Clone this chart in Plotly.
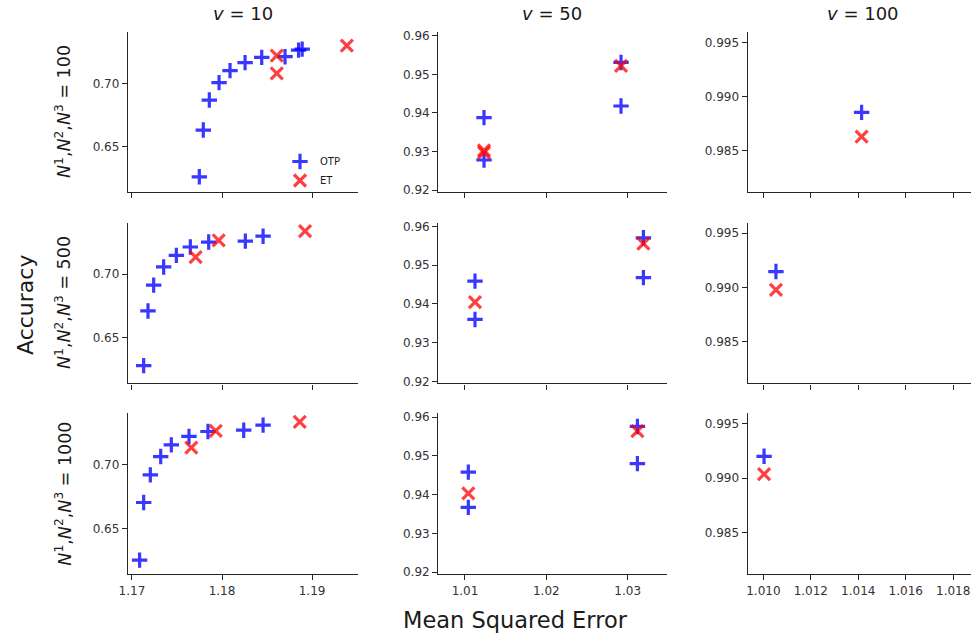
import plotly.graph_objects as go

# ---------------- data ----------------
v_values = [10, 50, 100]
n_values = [100, 500, 1000]
series_names = ["OTP", "ET"]

# N = 100
otp_mse_n100_v10 = [1.17748, 1.17792, 1.17859, 1.17967, 1.18089, 1.18256, 1.18441, 1.18700, 1.18850, 1.18890]
otp_acc_n100_v10 = [0.6262, 0.6631, 0.6868, 0.7005, 0.7100, 0.7163, 0.7205, 0.7210, 0.7262, 0.7270]
et_mse_n100_v10 = [1.18608, 1.18608, 1.19386]
et_acc_n100_v10 = [0.7218, 0.7079, 0.7297]

otp_mse_n100_v50 = [1.01234, 1.01234, 1.02918, 1.02918]
otp_acc_n100_v50 = [0.9388, 0.9278, 0.9531, 0.9418]
et_mse_n100_v50 = [1.01234, 1.01234, 1.02918]
et_acc_n100_v50 = [0.9303, 0.9297, 0.9522]

otp_mse_n100_v100 = [1.01414]
otp_acc_n100_v100 = [0.98854]
et_mse_n100_v100 = [1.01414]
et_acc_n100_v100 = [0.98629]

# N = 500
otp_mse_n500_v10 = [1.17130, 1.17178, 1.17241, 1.17352, 1.17493, 1.17648, 1.17852, 1.18259, 1.18456]
otp_acc_n500_v10 = [0.6281, 0.6711, 0.6914, 0.7057, 0.7148, 0.7214, 0.7253, 0.7260, 0.7299]
et_mse_n500_v10 = [1.17707, 1.17963, 1.18922]
et_acc_n500_v10 = [0.7135, 0.7266, 0.7339]

otp_mse_n500_v50 = [1.01123, 1.01123, 1.03193, 1.03193]
otp_acc_n500_v50 = [0.9459, 0.9360, 0.9571, 0.9468]
et_mse_n500_v50 = [1.01123, 1.03193]
et_acc_n500_v50 = [0.9405, 0.9556]

otp_mse_n500_v100 = [1.01053]
otp_acc_n500_v100 = [0.99146]
et_mse_n500_v100 = [1.01053]
et_acc_n500_v100 = [0.98977]

# N = 1000
otp_mse_n1000_v10 = [1.17085, 1.17130, 1.17204, 1.17319, 1.17437, 1.17633, 1.17844, 1.18241, 1.18456]
otp_acc_n1000_v10 = [0.6251, 0.6704, 0.6921, 0.7065, 0.7157, 0.7223, 0.7262, 0.7272, 0.7312]
et_mse_n1000_v10 = [1.17659, 1.17930, 1.18863]
et_acc_n1000_v10 = [0.7136, 0.7267, 0.7338]

otp_mse_n1000_v50 = [1.01041, 1.01041, 1.03119, 1.03119]
otp_acc_n1000_v50 = [0.9458, 0.9367, 0.9576, 0.9480]
et_mse_n1000_v50 = [1.01041, 1.03119]
et_acc_n1000_v50 = [0.9403, 0.9564]

otp_mse_n1000_v100 = [1.01003]
otp_acc_n1000_v100 = [0.99200]
et_mse_n1000_v100 = [1.01003]
et_acc_n1000_v100 = [0.99036]

# tick values per column
x_ticks_v10 = [1.17, 1.18, 1.19]
x_ticks_v50 = [1.01, 1.02, 1.03]
x_ticks_v100 = [1.010, 1.012, 1.014, 1.016, 1.018]
y_ticks_v10 = [0.65, 0.70]
y_ticks_v50 = [0.92, 0.93, 0.94, 0.95, 0.96]
y_ticks_v100 = [0.985, 0.990, 0.995]

panels = {
    (100, 10): (otp_mse_n100_v10, otp_acc_n100_v10, et_mse_n100_v10, et_acc_n100_v10),
    (100, 50): (otp_mse_n100_v50, otp_acc_n100_v50, et_mse_n100_v50, et_acc_n100_v50),
    (100, 100): (otp_mse_n100_v100, otp_acc_n100_v100, et_mse_n100_v100, et_acc_n100_v100),
    (500, 10): (otp_mse_n500_v10, otp_acc_n500_v10, et_mse_n500_v10, et_acc_n500_v10),
    (500, 50): (otp_mse_n500_v50, otp_acc_n500_v50, et_mse_n500_v50, et_acc_n500_v50),
    (500, 100): (otp_mse_n500_v100, otp_acc_n500_v100, et_mse_n500_v100, et_acc_n500_v100),
    (1000, 10): (otp_mse_n1000_v10, otp_acc_n1000_v10, et_mse_n1000_v10, et_acc_n1000_v10),
    (1000, 50): (otp_mse_n1000_v50, otp_acc_n1000_v50, et_mse_n1000_v50, et_acc_n1000_v50),
    (1000, 100): (otp_mse_n1000_v100, otp_acc_n1000_v100, et_mse_n1000_v100, et_acc_n1000_v100),
}

# ---------------- layout / style ----------------
W, H = 971, 637
FONT = "DejaVu Sans, Liberation Sans, sans-serif"
BLUE = "rgba(0,0,255,0.78)"
RED = "rgba(255,0,0,0.75)"
AXC = "#262626"

col_px = [(128, 358), (438.3, 667), (747.7, 971)]
row_px = [(32, 192), (222.7, 383.3), (413.3, 574)]
x_ranges = {10: [1.16956, 1.1951], 50: [1.00672, 1.03483], 100: [1.00934, 1.01875]}
y_ranges = {10: [0.6142, 0.7405], 50: [0.9195, 0.961], 100: [0.98119, 0.99595]}
x_ticks = {10: x_ticks_v10, 50: x_ticks_v50, 100: x_ticks_v100}
y_ticks = {10: y_ticks_v10, 50: y_ticks_v50, 100: y_ticks_v100}
x_fmt = {10: ".2f", 50: ".2f", 100: ".3f"}
y_fmt = {10: ".2f", 50: ".2f", 100: ".3f"}

fig = go.Figure()
layout = dict(
    width=W, height=H,
    margin=dict(l=0, r=0, t=0, b=0),
    paper_bgcolor="white", plot_bgcolor="white",
    font=dict(family=FONT, color=AXC, size=12),
    showlegend=True,
)

idx = 0
for r, n in enumerate(n_values):
    for c, v in enumerate(v_values):
        idx += 1
        sfx = "" if idx == 1 else str(idx)
        xa, ya = "x" + sfx, "y" + sfx
        otp_x, otp_y, et_x, et_y = panels[(n, v)]
        first = (r == 0 and c == 0)
        fig.add_trace(go.Scatter(
            x=otp_x, y=otp_y, mode="markers", name=series_names[0],
            xaxis=xa, yaxis=ya, showlegend=first, legendgroup="otp",
            marker=dict(symbol="cross-thin", size=11, color=BLUE,
                        line=dict(width=3.2, color=BLUE)),
            cliponaxis=False,
        ))
        fig.add_trace(go.Scatter(
            x=et_x, y=et_y, mode="markers", name=series_names[1],
            xaxis=xa, yaxis=ya, showlegend=first, legendgroup="et",
            marker=dict(symbol="x-thin", size=12, color=RED,
                        line=dict(width=3.2, color=RED)),
            cliponaxis=False,
        ))
        x0, x1 = col_px[c]
        y0, y1 = row_px[r]
        common = dict(showline=True, linecolor=AXC, linewidth=1.4, ticks="outside",
                      ticklen=5, tickwidth=1.3, tickcolor=AXC, showgrid=False,
                      zeroline=False, automargin=False, mirror=False,
                      tickfont=dict(size=12, family=FONT, color="#333333"))
        layout["xaxis" + sfx] = dict(
            common, domain=[x0 / W, x1 / W], range=x_ranges[v], anchor=ya,
            tickvals=x_ticks[v], tickformat=x_fmt[v], showticklabels=(r == 2),
        )
        layout["yaxis" + sfx] = dict(
            common, domain=[1 - y1 / H, 1 - y0 / H], range=y_ranges[v], anchor=xa,
            tickvals=y_ticks[v], tickformat=y_fmt[v],
        )

annotations = []
title_x = [243, 552, 863]
for c, v in enumerate(v_values):
    annotations.append(dict(
        text=f"<i>v</i> = {v}", x=title_x[c] / W, y=1 - 13 / H, xref="paper", yref="paper",
        showarrow=False, xanchor="center", yanchor="middle",
        font=dict(size=18, family=FONT, color="#1a1a1a")))
for r, n in enumerate(n_values):
    yc = (row_px[r][0] + row_px[r][1]) / 2
    annotations.append(dict(
        text=f"<i>N</i><sup>1</sup>,<i>N</i><sup>2</sup>,<i>N</i><sup>3</sup> = {n}",
        x=63 / W, y=1 - yc / H, xref="paper", yref="paper", textangle=-90,
        showarrow=False, xanchor="center", yanchor="middle",
        font=dict(size=17.5, family=FONT, color="#1a1a1a")))
annotations.append(dict(
    text="Accuracy", x=25 / W, y=1 - 305 / H, xref="paper", yref="paper", textangle=-90,
    showarrow=False, xanchor="center", yanchor="middle",
    font=dict(size=22, family=FONT, color="#1a1a1a")))
annotations.append(dict(
    text="Mean Squared Error", x=515 / W, y=1 - 620 / H, xref="paper", yref="paper",
    showarrow=False, xanchor="center", yanchor="middle",
    font=dict(size=22.5, family=FONT, color="#1a1a1a")))
layout["annotations"] = annotations
layout["legend"] = dict(
    x=280 / W, y=1 - 147 / H, xanchor="left", yanchor="top",
    bgcolor="rgba(0,0,0,0)", borderwidth=0,
    font=dict(size=10, family=FONT, color="#1a1a1a"),
    itemwidth=30, tracegroupgap=0,
)

fig.update_layout(**layout)
fig.write_html("out.html")
